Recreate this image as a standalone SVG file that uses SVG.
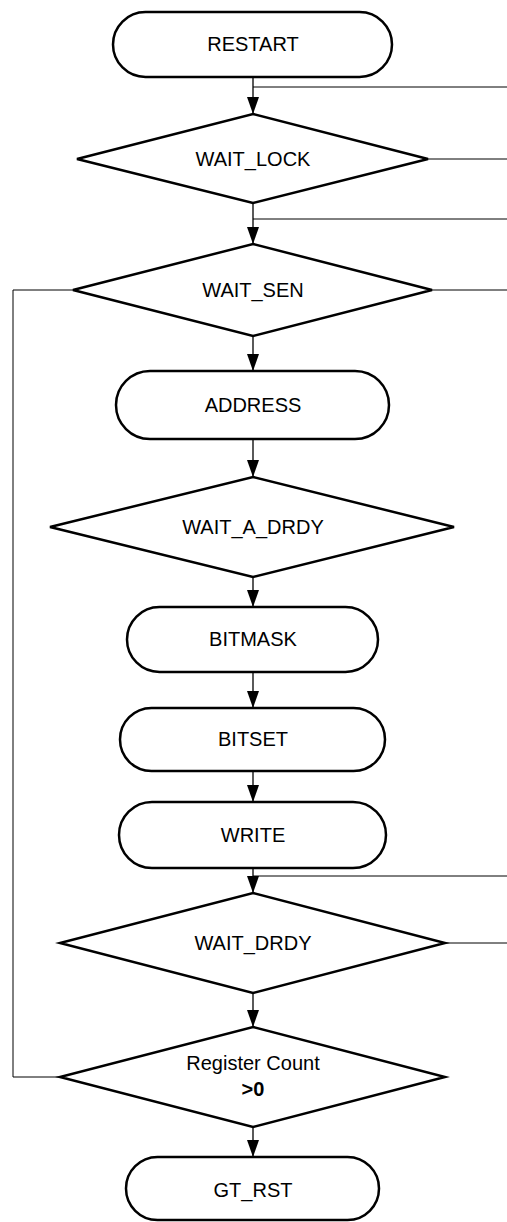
<svg xmlns="http://www.w3.org/2000/svg" width="507" height="1222" viewBox="0 0 507 1222">
<style>
.shape{fill:#fff;stroke:#000;stroke-width:2.5}
.lbl{font-family:"Liberation Sans",Arial,sans-serif;font-size:20px;fill:#000;text-anchor:middle}
.b{font-weight:bold}
.ln{fill:none;stroke:#000;stroke-width:1.3}
.thin{fill:none;stroke:#000;stroke-width:1}
</style>
<defs>
<marker id="arr" viewBox="0 0 12 17" refX="6" refY="17" markerWidth="12" markerHeight="17" markerUnits="userSpaceOnUse" orient="auto-start-reverse">
<path d="M0,0 L12,0 L6,17 Z" fill="#000"/>
</marker>
<marker id="arrd" viewBox="0 0 12 17" refX="6" refY="17" markerWidth="12" markerHeight="17" markerUnits="userSpaceOnUse" orient="0">
<path d="M0,0 L12,0 L6,17 Z" fill="#000"/>
</marker>
</defs>
<rect width="507" height="1222" fill="#fff"/>
<g id="connectors">
<line class="ln" x1="253" y1="77" x2="253" y2="114" marker-end="url(#arrd)"/>
<line class="ln" x1="253" y1="203" x2="253" y2="244" marker-end="url(#arrd)"/>
<line class="ln" x1="253" y1="336" x2="253" y2="371" marker-end="url(#arrd)"/>
<line class="ln" x1="253" y1="439" x2="253" y2="477" marker-end="url(#arrd)"/>
<line class="ln" x1="253" y1="577" x2="253" y2="607" marker-end="url(#arrd)"/>
<line class="ln" x1="253" y1="672" x2="253" y2="708" marker-end="url(#arrd)"/>
<line class="ln" x1="253" y1="771" x2="253" y2="802" marker-end="url(#arrd)"/>
<line class="ln" x1="253" y1="868" x2="253" y2="893" marker-end="url(#arrd)"/>
<line class="ln" x1="253" y1="993" x2="253" y2="1027" marker-end="url(#arrd)"/>
<line class="ln" x1="253" y1="1127" x2="253" y2="1157" marker-end="url(#arrd)"/>
<line class="thin" x1="253" y1="87" x2="507" y2="87"/>
<line class="thin" x1="428" y1="159" x2="507" y2="159"/>
<line class="thin" x1="253" y1="219" x2="507" y2="219"/>
<line class="thin" x1="432" y1="290" x2="507" y2="290"/>
<line class="thin" x1="253" y1="876" x2="507" y2="876"/>
<line class="thin" x1="445" y1="943" x2="507" y2="943"/>
<polyline class="thin" points="60,1077 13,1077 13,290 73,290"/>
</g>
<g id="restart">
<rect class="shape" x="113" y="12" width="279" height="65" rx="32.5"/>
<text class="lbl" x="253" y="51">RESTART</text>
</g>
<g id="wait_lock">
<polygon class="shape" points="253,114 428,159 253,203 77,159"/>
<text class="lbl" x="253" y="166">WAIT_LOCK</text>
</g>
<g id="wait_sen">
<polygon class="shape" points="253,244 432,290 253,336 73,290"/>
<text class="lbl" x="253" y="297">WAIT_SEN</text>
</g>
<g id="address">
<rect class="shape" x="116" y="371" width="273" height="68" rx="34"/>
<text class="lbl" x="253" y="412">ADDRESS</text>
</g>
<g id="wait_a_drdy">
<polygon class="shape" points="253,477 454,527 253,577 50,527"/>
<text class="lbl" x="253" y="534">WAIT_A_DRDY</text>
</g>
<g id="bitmask">
<rect class="shape" x="127" y="607" width="251" height="65" rx="32.5"/>
<text class="lbl" x="253" y="646">BITMASK</text>
</g>
<g id="bitset">
<rect class="shape" x="120" y="708" width="265" height="63" rx="31.5"/>
<text class="lbl" x="253" y="746">BITSET</text>
</g>
<g id="write">
<rect class="shape" x="119" y="802" width="267" height="66" rx="33"/>
<text class="lbl" x="253" y="842">WRITE</text>
</g>
<g id="wait_drdy">
<polygon class="shape" points="253,893 445,943 253,993 60,943"/>
<text class="lbl" x="253" y="950">WAIT_DRDY</text>
</g>
<g id="register_count">
<polygon class="shape" points="253,1027 445,1077 253,1127 60,1077"/>
<text class="lbl" x="253" y="1070">Register Count</text>
<text class="lbl b" x="253" y="1096">&gt;0</text>
</g>
<g id="gt_rst">
<rect class="shape" x="126" y="1157" width="253" height="63" rx="31.5"/>
<text class="lbl" x="253" y="1197">GT_RST</text>
</g>
</svg>
